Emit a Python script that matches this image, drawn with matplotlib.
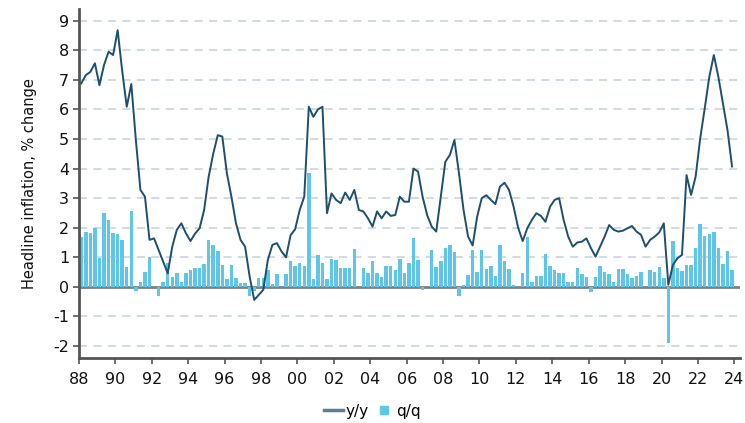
import numpy as np
import matplotlib
matplotlib.use("Agg")
import matplotlib.pyplot as plt
from matplotlib.lines import Line2D

plt.rcParams["axes.unicode_minus"] = False

# quarterly data, 1988Q1 .. 2023Q4
start_year = 1988
n_quarters = 144

# y/y headline inflation (line)
yy = [6.88, 7.16, 7.27, 7.56, 6.82, 7.5, 7.95, 7.84, 8.68, 7.3, 6.09, 6.86,
      4.97, 3.28, 3.05, 1.59, 1.64, 1.25, 0.86, 0.46, 1.36, 1.93, 2.15, 1.81,
      1.55, 1.8, 1.98, 2.6, 3.73, 4.5, 5.13, 5.08, 3.84, 3.05, 2.15, 1.59,
      1.36, 0.35, -0.44, -0.27, -0.1, 0.91, 1.42, 1.48, 1.2, 1.0, 1.75, 1.95,
      2.6, 3.05, 6.09, 5.75, 6.0, 6.09, 2.49, 3.16, 2.94, 2.83, 3.19, 2.94,
      3.28, 2.6, 2.55, 2.32, 2.04, 2.55, 2.32, 2.55, 2.4, 2.43, 3.05, 2.88,
      2.88, 4.0, 3.9, 3.05, 2.43, 2.04, 1.87, 3.05, 4.23, 4.46, 4.97, 3.84,
      2.6, 1.7, 1.4, 2.38, 3.0, 3.1, 2.94, 2.8, 3.39, 3.52, 3.28, 2.71,
      2.0, 1.55, 1.98, 2.26, 2.49, 2.4, 2.2, 2.71, 2.94, 3.0, 2.26, 1.7,
      1.36, 1.5, 1.53, 1.64, 1.31, 1.02, 1.36, 1.7, 2.09, 1.93, 1.87, 1.9,
      1.98, 2.06, 1.87, 1.76, 1.36, 1.59, 1.7, 1.84, 2.15, 0.07, 0.74, 0.97,
      1.08, 3.78, 3.11, 3.73, 5.02, 6.04, 7.1, 7.84, 7.1, 6.2, 5.3, 4.07]

# q/q headline inflation (bars)
qq = [1.68, 1.87, 1.82, 1.99, 0.97, 2.5, 2.25, 1.81, 1.79, 1.6, 0.68, 2.58,
      -0.14, 0.17, 0.49, 1.0, 0.0, -0.3, 0.16, 0.8, 0.34, 0.46, 0.15, 0.47,
      0.58, 0.64, 0.64, 0.78, 1.6, 1.4, 1.22, 0.74, 0.28, 0.74, 0.29, 0.12,
      0.12, -0.32, -0.15, 0.29, 0.29, 0.57, 0.1, 0.44, 0.0, 0.43, 0.86, 0.7,
      0.82, 0.7, 3.85, 0.26, 1.07, 0.8, 0.27, 0.93, 0.91, 0.65, 0.64, 0.64,
      1.27, 0.0, 0.63, 0.48, 0.86, 0.46, 0.34, 0.72, 0.72, 0.58, 0.94, 0.46,
      0.8, 1.64, 0.91, -0.1, 0.0, 1.25, 0.66, 0.86, 1.32, 1.4, 1.19, -0.3,
      0.07, 0.4, 1.25, 0.52, 1.25, 0.6, 0.72, 0.38, 1.4, 0.89, 0.6, 0.05,
      0.0, 0.46, 1.68, 0.15, 0.37, 0.36, 1.12, 0.71, 0.56, 0.46, 0.46, 0.17,
      0.17, 0.65, 0.44, 0.35, -0.16, 0.35, 0.71, 0.51, 0.44, 0.17, 0.61, 0.61,
      0.42, 0.31, 0.38, 0.5, 0.0, 0.56, 0.51, 0.66, 0.31, -1.9, 1.54, 0.65,
      0.53, 0.73, 0.73, 1.3, 2.12, 1.73, 1.8, 1.84, 1.32, 0.77, 1.2, 0.56]

tick_years = list(range(1988, 2025, 2))
tick_labels = ["%02d" % (y % 100) for y in tick_years]

# x position = middle of each quarter
t = start_year + (np.arange(n_quarters) + 0.5) / 4.0

line_col = "#1d4f6e"
bar_col = "#5ec6e8"
grid_col = "#cdd8df"
axis_col = "#555555"

fig = plt.figure(figsize=(7.45, 4.23), dpi=100)
ax = fig.add_axes([0.106, 0.154, 0.887, 0.825])

# dashed gridlines, solid zero line
for v in range(-2, 10):
    if v == 0:
        continue
    ax.axhline(v, color=grid_col, lw=1.3, ls=(0, (4.5, 3.5)), zorder=0)
ax.axhline(0, color="#808080", lw=2, zorder=1)

ax.bar(t, qq, width=0.19, color=bar_col, edgecolor="none", zorder=2)
ax.plot(t, yy, color=line_col, lw=1.4, zorder=3)

ax.set_xlim(1988, 2024.3)
ax.set_ylim(-2.4, 9.4)
ax.set_xticks(tick_years)
ax.set_xticklabels(tick_labels)
ax.set_yticks(range(-2, 10))

for s in ["top", "right"]:
    ax.spines[s].set_visible(False)
for s in ["left", "bottom"]:
    ax.spines[s].set_color(axis_col)
    ax.spines[s].set_linewidth(2)

ax.tick_params(axis="both", direction="out", length=4, width=1.2,
               color=axis_col, labelsize=11.5, labelcolor="#111111")
ax.tick_params(axis="x", pad=6)
ax.tick_params(axis="y", pad=3)

ax.set_ylabel("Headline inflation, % change", fontsize=10.5, color="#111111", labelpad=12)

handles = [Line2D([0], [0], color="#5b7f98", lw=2.5),
           Line2D([0], [0], marker="s", ls="none", color=bar_col, markersize=6)]
fig.legend(handles, ["y/y", "q/q"], loc="center", bbox_to_anchor=(0.5, 0.028),
           ncol=2, frameon=False, fontsize=11, handlelength=1.2,
           handletextpad=0.2, columnspacing=0.4)

fig.savefig("out.png", dpi=100)
